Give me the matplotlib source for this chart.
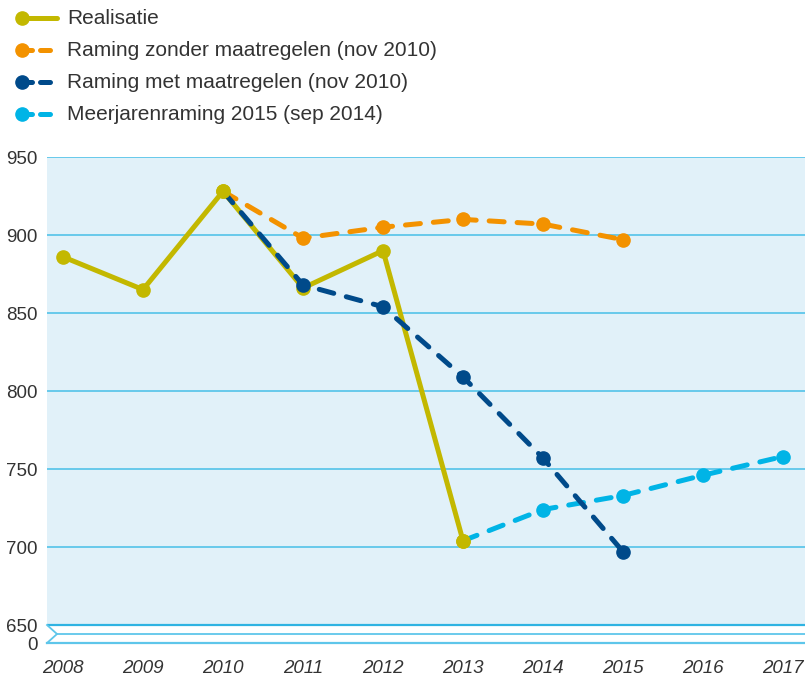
import matplotlib.pyplot as plt
from matplotlib.lines import Line2D
import matplotlib.transforms as mtransforms

# Data
years_real = [2008, 2009, 2010, 2011, 2012, 2013]
realisatie = [886, 865, 928, 866, 890, 704]

years_zonder = [2010, 2011, 2012, 2013, 2014, 2015]
zonder = [928, 898, 905, 910, 907, 897]

years_met = [2010, 2011, 2012, 2013, 2014, 2015]
met = [928, 868, 854, 809, 757, 697]

years_mjr = [2013, 2014, 2015, 2016, 2017]
mjr = [704, 724, 733, 746, 758]

yticks = [650, 700, 750, 800, 850, 900, 950]
xticks = list(range(2008, 2018))

labels = ["Realisatie",
          "Raming zonder maatregelen (nov 2010)",
          "Raming met maatregelen (nov 2010)",
          "Meerjarenraming 2015 (sep 2014)"]

c_real = "#c3b800"
c_zonder = "#f39200"
c_met = "#004a8a"
c_mjr = "#00b4e6"
c_grid = "#5ec6ea"
c_text = "#333333"

plt.rcParams['font.family'] = ['Liberation Sans', 'DejaVu Sans']

fig = plt.figure(figsize=(8.05, 6.82), dpi=100)
ax = fig.add_axes([47 / 805, 39 / 682, 758 / 805, 486 / 682])
ax.set_facecolor("white")

# y scale: 78 px per 50 units, axis bottom is the "0" line 18 px below 650
y_zero = 650 - 18 / 78 * 50
y_mid = 650 - 9 / 78 * 50
ax.set_ylim(y_zero, 950)
ax.set_xlim(2007.8, 2017.275)

ax.axhspan(650, 950, color="#e1f1f9", zorder=0, lw=0)
for y in yticks[1:]:
    ax.axhline(y, color=c_grid, lw=1.3, zorder=1)
ax.axhline(650, color="#2fb3e2", lw=1.6, zorder=1)

# axis break marks
blend = mtransforms.blended_transform_factory(ax.transAxes, ax.transData)
brk = 10 / 758
ax.plot([brk, 1], [y_mid, y_mid], color=c_grid, lw=1.3, transform=blend, clip_on=False)
ax.plot([0, 1], [y_zero, y_zero], color=c_grid, lw=1.6, transform=blend, clip_on=False)
ax.plot([0, brk, 0], [650, y_mid, y_zero], color=c_grid, lw=1.3, transform=blend, clip_on=False)

lw = 3.6
ms = 9.5
dash = (3.0, 2.6)

ax.plot(years_real, realisatie, color=c_real, lw=lw, marker="o", ms=ms,
        solid_capstyle="round", zorder=2)
ax.plot(years_zonder, zonder, color=c_zonder, lw=lw, marker="o", ms=ms,
        markevery=list(range(1, len(zonder))), dashes=dash,
        dash_capstyle="round", zorder=3)
ax.plot(years_met, met, color=c_met, lw=lw, marker="o", ms=ms,
        markevery=list(range(1, len(met))), dashes=dash,
        dash_capstyle="round", zorder=4)
ax.plot(years_mjr, mjr, color=c_mjr, lw=lw, marker="o", ms=ms,
        markevery=list(range(1, len(mjr))), dashes=dash,
        dash_capstyle="round", zorder=3)
# yellow points drawn on top at shared start points
ax.plot([years_real[2], years_real[5]], [realisatie[2], realisatie[5]],
        ls="none", marker="o", ms=ms, color=c_real, zorder=5)

ax.set_yticks(yticks + [y_zero])
ax.set_yticklabels([str(v) for v in yticks] + ["0"])
ax.set_xticks(xticks)
ax.set_xticklabels([str(x) for x in xticks], style="italic")
ax.tick_params(axis="y", length=0, pad=7, labelsize=13.5, labelcolor=c_text)
ax.tick_params(axis="x", length=0, pad=12, labelsize=13.5, labelcolor=c_text)
for s in ax.spines.values():
    s.set_visible(False)
ax.grid(False)

# legend drawn at the top left
colors = [c_real, c_zonder, c_met, c_mjr]
for i, (lab, col) in enumerate(zip(labels, colors)):
    yp = 1 - (18 + 32 * i) / 682
    x0, x1 = 22 / 805, 57 / 805
    if i == 0:
        ln = Line2D([x0, x1], [yp, yp], color=col, lw=lw, transform=fig.transFigure,
                    solid_capstyle="round")
    else:
        ln = Line2D([x0, x1], [yp, yp], color=col, lw=lw, transform=fig.transFigure,
                    dashes=(2.0, 1.6), dash_capstyle="round")
    fig.add_artist(ln)
    fig.add_artist(Line2D([x0], [yp], marker="o", ms=ms, color=col,
                          transform=fig.transFigure))
    fig.text(67 / 805, yp, lab, fontsize=15, color=c_text, va="center", ha="left")

fig.savefig("out.png", dpi=100)
